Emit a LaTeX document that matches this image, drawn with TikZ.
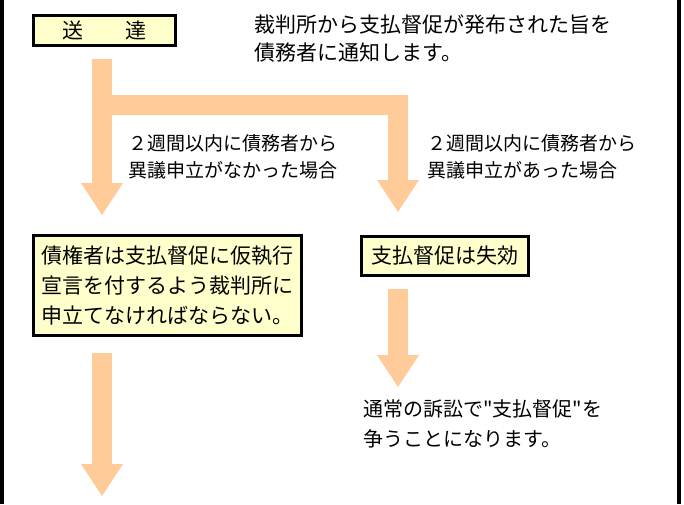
\documentclass[tikz,border=0pt]{standalone}
\usepackage{fontspec}
\setmainfont{Noto Sans CJK JP}[Ligatures=TeXOff]
\usetikzlibrary{arrows.meta}
\definecolor{flecha}{HTML}{FFCC99}
\definecolor{caja}{HTML}{FFFFCC}
\tikzset{
  waku/.style={draw=black, line width=3pt, fill=caja, inner sep=0pt, font=\fontsize{21pt}{30pt}\selectfont},
  setsumei/.style={anchor=west, align=left, inner sep=0pt},
  yajirushi/.style={draw=flecha, line width=20pt, line join=miter,
    -{Triangle[length=32pt,width=42pt,line width=0pt]}}
}
\begin{document}
\begin{tikzpicture}[x=1pt,y=-1pt]
    \useasboundingbox (0,0) rectangle (684,504);

    % Dibuja los bordes izquierdo y derecho
    \draw[line width=4pt] (2,0) -- (2,504);
    \draw[line width=4pt] (679,0) -- (679,504);

    % Define las cajas
    \node[waku, minimum width=142pt, minimum height=30pt] (sotatsu) at (104.5,30.5) {送\hspace{2em}達};
    \node[waku, minimum width=268pt, minimum height=100pt, align=left] (saiken) at (167.5,285.5)
        {債権者は支払督促に仮執行\\宣言を付するよう裁判所に\\申立てなければならない。};
    \node[waku, minimum width=167pt, minimum height=39pt] (shikko) at (445,256) {支払督促は失効};

    % Define los textos
    \node[setsumei, font=\fontsize{21pt}{28pt}\selectfont] (tsuchi) at (254,39)
        {裁判所から支払督促が発布された旨を\\債務者に通知します。};
    \node[setsumei, font=\fontsize{19pt}{27pt}\selectfont] (nashi) at (128,157)
        {２週間以内に債務者から\\異議申立がなかった場合};
    \node[setsumei, font=\fontsize{19pt}{27pt}\selectfont] (ari) at (427,157)
        {２週間以内に債務者から\\異議申立があった場合};
    \node[setsumei, font=\fontsize{20pt}{30pt}\selectfont] (sosho) at (363,424)
        {通常の訴訟で"支払督促"を\\争うことになります。};

    % Define los puntos de las flechas
    \coordinate (kanbu) at (102,59);
    \coordinate (bunki) at (102,105);
    \coordinate (kado) at (398,105);
    \coordinate (shita) at (102,353);
    \coordinate (fin) at (102,496);
    \coordinate (migishita) at (398,289);
    \coordinate (migifin) at (398,387);

    % Dibuja las flechas
    \draw[yajirushi, shorten >=19pt] (kanbu) -- (kanbu |- saiken.north);
    \draw[yajirushi, shorten >=23pt] (bunki) -- (kado) -- (kado |- shikko.north);
    \draw[yajirushi] (shita) -- (fin);
    \draw[yajirushi] (migishita) -- (migifin);
\end{tikzpicture}
\end{document}
